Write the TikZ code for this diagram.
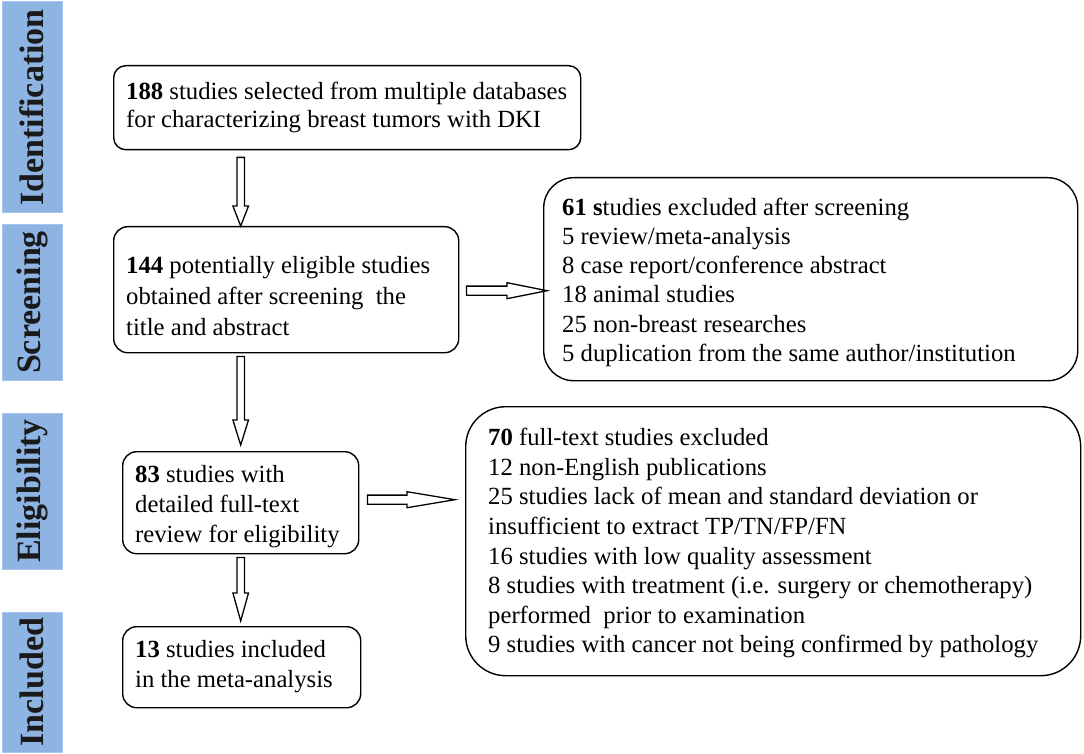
\documentclass[tikz,border=0pt]{standalone}
\usepackage{fontspec}
\setmainfont{Liberation Serif}
\usetikzlibrary{calc}
\definecolor{sidefill}{HTML}{8EB4E3}
\definecolor{sideline}{HTML}{A9C5EB}
\definecolor{sidetext}{HTML}{1A1A1A}
\newcommand{\vblock}[3]{\draw[blk] let \p1=(#1), \p2=(#2) in (\x1-3.8pt,\y1) -- (\x1-3.8pt,\y2+#3) -- (\x1-7.8pt,\y2+#3) -- (\x1,\y2) -- (\x1+7.8pt,\y2+#3) -- (\x1+3.8pt,\y2+#3) -- (\x1+3.8pt,\y1) -- cycle;}
\newcommand{\hblock}[3]{\draw[blk] let \p1=(#1), \p2=(#2) in (\x1,\y1+4.6pt) -- (\x2-#3,\y1+4.6pt) -- (\x2-#3,\y1+8pt) -- (\x2,\y1) -- (\x2-#3,\y1-8pt) -- (\x2-#3,\y1-4.6pt) -- (\x1,\y1-4.6pt) -- cycle;}
\begin{document}
\begin{tikzpicture}[x=1pt,y=-1pt,
  boxshape/.style={draw, line width=1.4pt, anchor=north west, inner sep=0pt},
  txt/.style={anchor=west, align=left, inner sep=0pt, font=\fontsize{24.7}{29.5}\selectfont},
  side/.style={rotate=90, fill=sidefill, draw=sideline, line width=1pt, minimum height=60pt, inner sep=0pt, text=sidetext, font=\fontsize{34}{40}\selectfont\bfseries},
  blk/.style={draw, fill=white, line width=1.3pt, line join=miter}]
\useasboundingbox[fill=white] (0,0) rectangle (1084,754);
% side labels
\node[side, minimum width=211pt] (sid) at (32,107.5) {Identification};
\node[side, minimum width=155pt] (sscr) at (32,302.5) {Screening};
\node[side, minimum width=156pt] (self) at (32,491) {Eligibility};
\node[side, minimum width=140pt] (sinc) at (32,682) {Included};
% boxes
\node[boxshape, rounded corners=12pt, minimum width=467pt, minimum height=84pt] (b1) at (113,65) {};
\node[txt, font=\fontsize{24.7}{28}\selectfont] (t1) at ($(b1.west)+(13,0)$) {\textbf{188} studies selected from multiple databases\\for characterizing breast tumors with DKI};
\node[boxshape, rounded corners=14pt, minimum width=345pt, minimum height=126pt] (b2) at (113,226) {};
\node[txt, font=\fontsize{24.7}{31}\selectfont] (t2) at ($(b2.west)+(13,6)$) {\textbf{144} potentially eligible studies\\obtained after screening\ \ the\\title and abstract};
\node[boxshape, rounded corners=30pt, minimum width=534pt, minimum height=203pt] (b3) at (543,177) {};
\node[txt, font=\fontsize{24.7}{29.2}\selectfont] (t3) at ($(b3.west)+(19,3)$) {\textbf{61 s}tudies excluded after screening\\5 review/meta-analysis\\8 case report/conference abstract\\18 animal studies\\25 non-breast researches\\5 duplication from the same author/institution};
\node[boxshape, rounded corners=14pt, minimum width=236pt, minimum height=102pt] (b4) at (122,451) {};
\node[txt, font=\fontsize{24.7}{30}\selectfont] (t4) at ($(b4.west)+(13,4)$) {\textbf{83} studies with\\detailed full-text\\review for eligibility};
\node[boxshape, rounded corners=14pt, minimum width=238pt, minimum height=81pt] (b5) at (122,626) {};
\node[txt, font=\fontsize{24.7}{30}\selectfont] (t5) at ($(b5.west)+(13,-1)$) {\textbf{13} studies included\\in the meta-analysis};
\node[boxshape, rounded corners=40pt, minimum width=615pt, minimum height=269pt] (b6) at (465,406) {};
\node[txt, font=\fontsize{24.7}{29.6}\selectfont] (t6) at ($(b6.west)+(23,2)$) {\textbf{70} full-text studies excluded\\12 non-English publications\\25 studies lack of mean and standard deviation or\\insufficient to extract TP/TN/FP/FN\\16 studies with low quality assessment\\8 studies with treatment (i.e. surgery or chemotherapy)\\performed\ \ prior to examination\\9 studies with cancer not being confirmed by pathology};
% arrow end points
\coordinate (a1s) at ($(b1.south -| b4.center)+(0,7)$);
\coordinate (a1e) at (a1s |- b2.north);
\coordinate (a2s) at ($(b2.south -| b4.center)+(0,3)$);
\coordinate (a2e) at ($(a2s |- b4.north)+(0,-6)$);
\coordinate (a3s) at ($(b4.south)+(0,3)$);
\coordinate (a3e) at ($(a3s |- b5.north)+(0,-5)$);
\coordinate (h1s) at ($(b2.east)+(7,1)$);
\coordinate (h1e) at ($(h1s -| b3.west)+(4,0)$);
\coordinate (h2s) at ($(b4.east)+(8,-3)$);
\coordinate (h2e) at ($(h2s -| b6.west)+(-10,0)$);
\vblock{a1s}{a1e}{20pt}
\vblock{a2s}{a2e}{25pt}
\vblock{a3s}{a3e}{28pt}
\hblock{h1s}{h1e}{40pt}
\hblock{h2s}{h2e}{48pt}
\end{tikzpicture}
\end{document}
